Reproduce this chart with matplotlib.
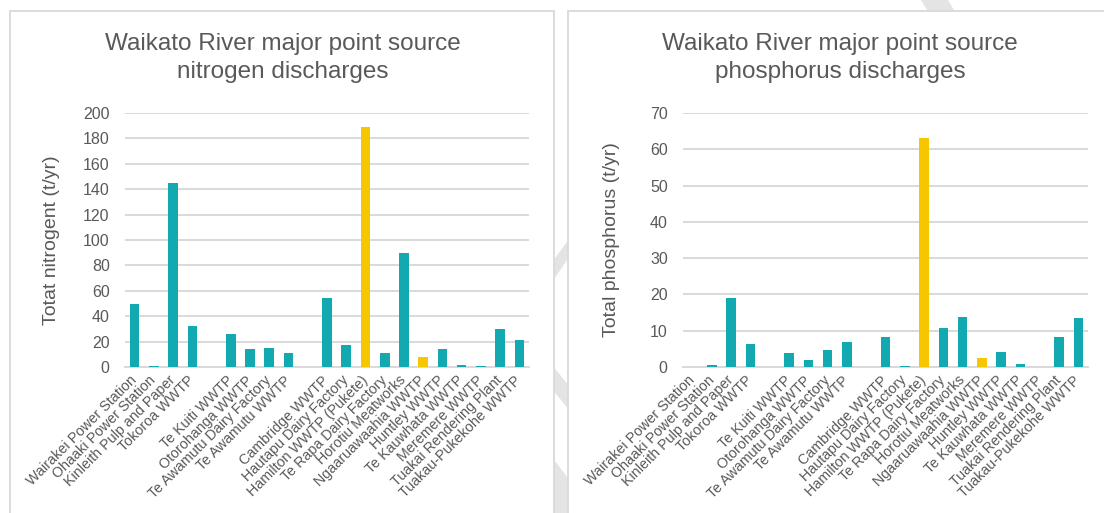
import numpy as np
import matplotlib
matplotlib.use("Agg")
import matplotlib.pyplot as plt
from matplotlib.patches import Rectangle, Polygon

plt.rcParams["font.family"] = ["Liberation Sans", "DejaVu Sans"]

# Point sources along the Waikato River, upstream to downstream ("" = spacer slot)
sites = [
    "Wairakei Power Station", "Ohaaki Power Station", "Kinleith Pulp and Paper",
    "Tokoroa WWTP", "", "Te Kuiti WWTP", "Otorohanga WWTP",
    "Te Awamutu Dairy Factory", "Te Awamutu WWTP", "", "Cambridge WWTP",
    "Hautapu Dairy Factory", "Hamilton WWTP (Pukete)", "Te Rapa Dairy Factory",
    "Horotiu Meatworks", "Ngaaruawaahia WWTP", "Huntley WWTP",
    "Te Kauwhata WWTP", "Meremere WWTP", "Tuakai Rendering Plant",
    "Tuakau-Pukekohe WWTP",
]

# Total nitrogen discharged (t/yr)
nitrogen = [50, 1, 145, 32, np.nan, 26, 14, 15, 11, np.nan, 54, 17, 189, 11,
            90, 7.5, 14, 1.5, 0.8, 30, 21]

# Total phosphorus discharged (t/yr)
phosphorus = [0, 0.5, 19, 6.3, np.nan, 3.9, 2.0, 4.7, 6.9, np.nan, 8.3, 0.4,
              63, 10.8, 13.7, 2.4, 4.0, 0.7, 0, 8.3, 13.6]

# Municipal plants of the Hamilton / Ngaaruawaahia area shown in yellow
highlighted = ["Hamilton WWTP (Pukete)", "Ngaaruawaahia WWTP"]

nitrogen_ticks = [0, 20, 40, 60, 80, 100, 120, 140, 160, 180, 200]
phosphorus_ticks = [0, 10, 20, 30, 40, 50, 60, 70]

TEAL = "#12A9B1"
GOLD = "#F6C700"
GRID = "#D9D9D9"
TEXT = "#595959"

W, H = 1104, 513
fig = plt.figure(figsize=(W / 100, H / 100), dpi=100)
fig.patch.set_facecolor("white")


def fx(x):
    return x / W


def fy(y):
    return 1 - y / H


# faint diagonal watermark strokes behind the chart panels
marks = [
    [(548, 268), (574, 232), (574, 250), (548, 288)],
    [(548, 360), (574, 392), (574, 416), (548, 384)],
    [(548, 452), (574, 486), (574, 520), (548, 520)],
    [(918, -5), (945, -5), (960, 20), (933, 20)],
]
for poly in marks:
    fig.patches.append(Polygon([(fx(x), fy(y)) for x, y in poly], closed=True,
                               transform=fig.transFigure, facecolor="#E4E4E4",
                               edgecolor="none", zorder=0))

# white chart panels with light border
for x0, x1 in [(10, 554), (568, 1112)]:
    fig.patches.append(Rectangle((fx(x0), fy(520)), fx(x1) - fx(x0), fy(11) - fy(520),
                                 transform=fig.transFigure, facecolor="white",
                                 edgecolor=GRID, linewidth=1.3, zorder=1))


def draw_panel(rect, values, ticks, ylabel, label_x, title, title_x):
    ax = fig.add_axes(rect)
    ax.set_zorder(2)
    ax.patch.set_alpha(0)
    x = np.arange(len(sites))
    colors = [GOLD if s in highlighted else TEAL for s in sites]
    vals = np.array(values, dtype=float)
    ax.bar(x, np.nan_to_num(vals), width=0.5, color=colors, zorder=3)
    ax.set_xlim(-0.5, len(sites) - 0.5)
    ax.set_ylim(ticks[0], ticks[-1])
    ax.set_yticks(ticks)
    ax.yaxis.grid(True, color=GRID, linewidth=1.4)
    ax.set_axisbelow(True)
    for side in ["top", "right", "left"]:
        ax.spines[side].set_visible(False)
    ax.spines["bottom"].set_color(GRID)
    ax.spines["bottom"].set_linewidth(1.4)
    ax.tick_params(axis="both", length=0, colors=TEXT)
    ax.tick_params(axis="y", labelsize=11.5, pad=11)
    ax.set_xticks(x)
    ax.set_xticklabels(sites, rotation=45, ha="right", va="center",
                       rotation_mode="anchor", fontsize=10.3, color=TEXT)
    ax.tick_params(axis="x", pad=8)
    ax.set_ylabel(ylabel, fontsize=14, color=TEXT, va="center")
    ax.yaxis.set_label_coords(label_x, 0.5)
    fig.text(title_x, fy(58), title, ha="center", va="center", fontsize=17.5,
             color=TEXT, linespacing=1.3)
    return ax


bottom = fy(367)
height = fy(113) - fy(367)
draw_panel([fx(125), bottom, fx(529) - fx(125), height], nitrogen, nitrogen_ticks,
           "Totat nitrogent (t/yr)", (52 - 125) / 404,
           "Waikato River major point source\nnitrogen discharges", fx(283))
draw_panel([fx(683), bottom, fx(1088) - fx(683), height], phosphorus, phosphorus_ticks,
           "Total phosphorus (t/yr)", (611 - 683) / 405,
           "Waikato River major point source\nphosphorus discharges", fx(840))

fig.savefig("out.png", dpi=100, facecolor="white")
